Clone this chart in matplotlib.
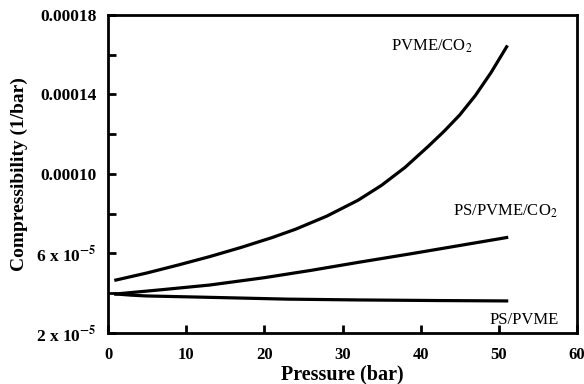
import numpy as np
from matplotlib import pyplot as plt
from matplotlib.ticker import FixedLocator

plt.rcParams['font.family'] = ['Liberation Serif', 'DejaVu Serif']
plt.rcParams['mathtext.fontset'] = 'stix'

# data (pressure in bar, compressibility in 1/bar)
p_pvme_co2 = [1, 5, 9, 13, 17, 21, 24, 28, 32, 35, 38, 41, 43, 45, 47, 49, 51]
k_pvme_co2 = [4.66e-5, 5.02e-5, 5.42e-5, 5.84e-5, 6.3e-5, 6.8e-5, 7.22e-5,
              7.88e-5, 8.68e-5, 9.43e-5, 10.33e-5, 11.4e-5, 12.15e-5, 12.97e-5,
              13.95e-5, 15.1e-5, 16.4e-5]

p_ps_pvme_co2 = [1, 7, 13, 20, 26, 32, 39, 45, 51]
k_ps_pvme_co2 = [3.96e-5, 4.18e-5, 4.41e-5, 4.78e-5, 5.15e-5, 5.55e-5, 6.0e-5,
                 6.4e-5, 6.8e-5]

p_ps_pvme = [1, 3, 5, 12, 23, 32, 42, 51]
k_ps_pvme = [3.96e-5, 3.9e-5, 3.86e-5, 3.8e-5, 3.7e-5, 3.66e-5, 3.63e-5, 3.61e-5]

y_ticks = [2e-5, 6e-5, 10e-5, 14e-5, 18e-5]
y_ticklabels = [r'2 x 10$^{\mathbf{-5}}$', r'6 x 10$^{\mathbf{-5}}$', '0.00010', '0.00014', '0.00018']
x_ticks = [0, 10, 20, 30, 40, 50, 60]

fig = plt.figure(figsize=(5.84, 3.84), dpi=100)
ax = fig.add_axes([0.185, 0.133, 0.803, 0.828])

lw = 2.3
ax.plot(p_pvme_co2, k_pvme_co2, color='black', lw=lw, solid_joinstyle='round')
ax.plot(p_ps_pvme_co2, k_ps_pvme_co2, color='black', lw=lw, solid_joinstyle='round')
ax.plot(p_ps_pvme, k_ps_pvme, color='black', lw=lw, solid_joinstyle='round')

ax.text(46.6, 16.4e-5, r'PVME/CO$_2$', ha='right', va='center', fontsize=12)
ax.text(57.6, 8.1e-5, r'PS/PVME/CO$_2$', ha='right', va='center', fontsize=12)
ax.text(57.7, 2.65e-5, 'PS/PVME', ha='right', va='center', fontsize=12)

ax.set_xlim(0, 60)
ax.set_ylim(2e-5, 18e-5)
ax.set_xticks(x_ticks)
ax.set_xticklabels([str(t) for t in x_ticks], fontweight='bold', fontsize=12)
ax.set_yticks(y_ticks)
ax.set_yticklabels(y_ticklabels, fontweight='bold', fontsize=12.5)
ax.yaxis.set_minor_locator(FixedLocator([4e-5, 8e-5, 12e-5, 16e-5]))
ax.tick_params(which='both', direction='in', width=2, length=6, pad=8)
ax.tick_params(axis='x', pad=10)

for s in ax.spines.values():
    s.set_linewidth(2)

ax.set_xlabel('Pressure (bar)', fontweight='bold', fontsize=14.5, labelpad=1)
ax.set_ylabel('Compressibility (1/bar)', fontweight='bold', fontsize=14, labelpad=6)

plt.savefig("out.png", dpi=100)
